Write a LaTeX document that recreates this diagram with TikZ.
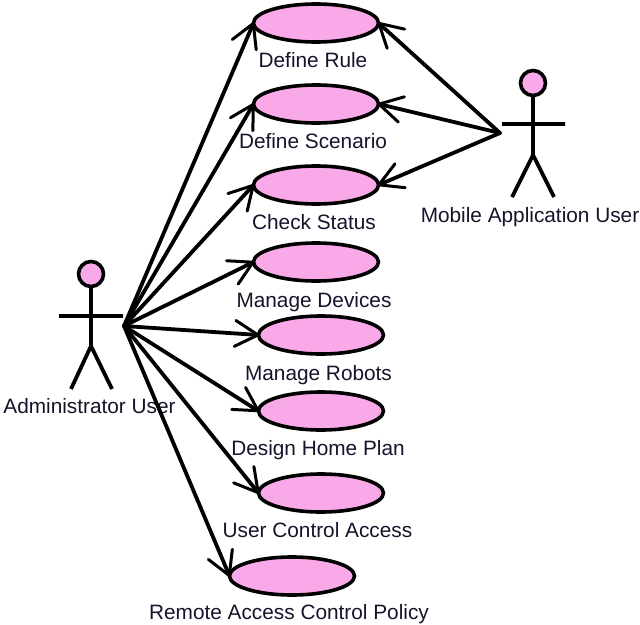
\documentclass[tikz,border=0pt]{standalone}
\usepackage{fontspec}
\setmainfont{Liberation Sans}
\usetikzlibrary{shapes.geometric,arrows.meta}
\definecolor{ucpink}{HTML}{FAA9E8}
\definecolor{lblink}{HTML}{14142A}
\begin{document}
\begin{tikzpicture}[x=1pt,y=-1pt,
  usecase/.style={draw=black,line width=3.6pt,fill=ucpink,ellipse,minimum width=125pt,minimum height=38pt,inner sep=0pt,outer sep=0pt},
  lbl/.style={font=\fontsize{20.8}{24}\selectfont,text=lblink,inner sep=0pt,anchor=base},
  assoc/.style={line width=3.8pt,line cap=round,-{Straight Barb[length=23pt,width=26pt,line width=3pt,round]},shorten >=-1pt},
  limb/.style={line width=3.8pt},
  headc/.style={circle,draw=black,line width=3.6pt,fill=ucpink,minimum size=25pt,inner sep=0pt,outer sep=0pt}]
\useasboundingbox (0,0) rectangle (640,624);
% use cases
\node[usecase] (u1) at (316,23) {};
\node[usecase] (u2) at (316,104) {};
\node[usecase] (u3) at (316,185) {};
\node[usecase] (u4) at (316,262) {};
\node[usecase] (u5) at (321,335) {};
\node[usecase] (u6) at (321,411) {};
\node[usecase] (u7) at (321,493) {};
\node[usecase] (u8) at (292,576) {};
% labels
\node[lbl] (l1) at (313,67) {Define Rule};
\node[lbl] (l2) at (313,148) {Define Scenario};
\node[lbl] (l3) at (314,229) {Check Status};
\node[lbl] (l4) at (314,307) {Manage Devices};
\node[lbl] (l5) at (318.5,380) {Manage Robots};
\node[lbl] (l6) at (318,455) {Design Home Plan};
\node[lbl] (l7) at (317.5,537) {User Control Access};
\node[lbl] (l8) at (289,619) {Remote Access Control Policy};
\node[lbl] (la) at (89.5,413) {Administrator User};
\node[lbl] (lm) at (530,222) {Mobile Application User};
% administrator actor
\node[headc] (ah) at (91,274) {};
\coordinate (ab) at (91,346);
\coordinate (aL) at (59,316);
\coordinate (aR) at (123,316);
\coordinate (af1) at (71,389);
\coordinate (af2) at (112,389);
\coordinate (A) at (124,326);
\draw[limb] (ah.south) -- (ab) (aL) -- (aR) (af1) -- (ab) -- (af2);
% mobile actor
\node[headc] (mh) at (533,83) {};
\coordinate (mb) at (533,155);
\coordinate (mL) at (502,124);
\coordinate (mR) at (565,124);
\coordinate (mf1) at (512,197);
\coordinate (mf2) at (554,197);
\coordinate (M) at (500,133);
\draw[limb] (mh.south) -- (mb) (mL) -- (mR) (mf1) -- (mb) -- (mf2);
% administrator associations
\draw[assoc] (A) -- (u1.west);
\draw[assoc] (A) -- (u2.west);
\draw[assoc] (A) -- (u3.west);
\draw[assoc] (A) -- (u4.west);
\draw[assoc] (A) -- (u5.west);
\draw[assoc] (A) -- (u6.west);
\draw[assoc] (A) -- (u7.west);
\draw[assoc] (A) -- (u8.west);
% mobile user associations
\draw[assoc] (M) -- (u1.east);
\draw[assoc] (M) -- (u2.east);
\draw[assoc] (M) -- (u3.east);
\end{tikzpicture}
\end{document}
